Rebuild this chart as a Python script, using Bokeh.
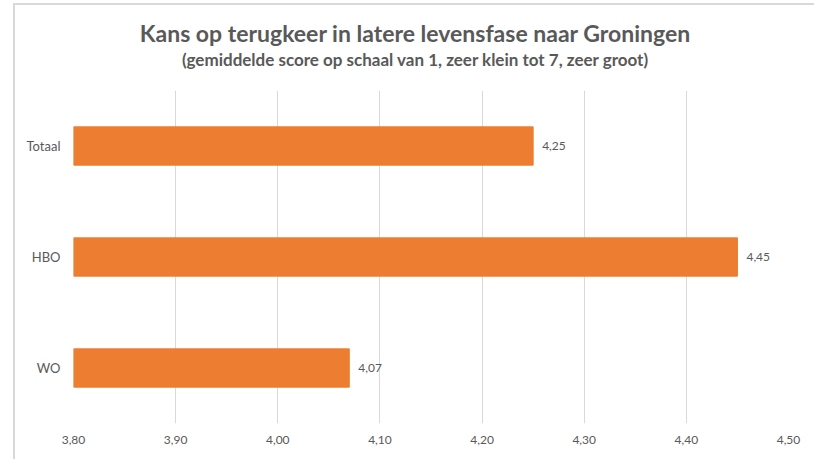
from bokeh.plotting import figure
from bokeh.models import ColumnDataSource, FixedTicker, CustomJSTickFormatter, Div
from bokeh.layouts import column
from bokeh.core.properties import value
from bokeh.embed import file_html
from bokeh.resources import INLINE

categories = ["WO", "HBO", "Totaal"]
scores = [4.07, 4.45, 4.25]
x_ticks = [3.8, 3.9, 4.0, 4.1, 4.2, 4.3, 4.4, 4.5]

title_text = "Kans op terugkeer in latere levensfase naar Groningen"
subtitle_text = "(gemiddelde score op schaal van 1, zeer klein tot 7, zeer groot)"

FONT = "Lato"
TXT = "#595959"
BAR = "#ED7D31"
GRID = "#D9D9D9"

labels = [f"{v:.2f}".replace(".", ",") for v in scores]
src = ColumnDataSource(data=dict(cat=categories, score=scores, label=labels))

W, H = 806, 451
HEAD = 82

head_html = f"""
<div style="position:relative;width:{W}px;height:{HEAD}px;font-family:'{FONT}';color:{TXT};font-weight:bold;overflow:visible;">
  <div style="position:absolute;left:14px;top:3px;width:820px;height:2px;background:{GRID};"></div>
  <div style="position:absolute;left:13px;top:3px;width:2px;height:470px;background:{GRID};"></div>
  <div style="position:absolute;left:0;width:830px;top:21px;font-size:23px;line-height:24px;text-align:center;white-space:nowrap;">{title_text}</div>
  <div style="position:absolute;left:0;width:830px;top:51px;font-size:17px;line-height:18px;text-align:center;white-space:nowrap;">{subtitle_text}</div>
</div>
"""
head = Div(text=head_html, width=W, height=HEAD, margin=0)

p = figure(
    width=W, height=H - HEAD,
    y_range=categories, x_range=(3.8, 4.5),
    output_backend="svg", toolbar_location=None,
    min_border_left=73, min_border_right=18,
    min_border_top=90 - HEAD, min_border_bottom=28,
    title=None, margin=0,
)
p.outline_line_color = None
p.background_fill_color = "white"
p.border_fill_color = None

p.hbar(y="cat", left=3.8, right="score", height=0.345, source=src,
       fill_color=BAR, line_color=BAR)

p.text(x="score", y="cat", text="label", source=src, x_offset=9,
       text_baseline="middle", text_align="left",
       text_font=value(FONT), text_font_size="12px", text_color=TXT)

p.xaxis.ticker = FixedTicker(ticks=x_ticks)
p.xaxis.formatter = CustomJSTickFormatter(code="return tick.toFixed(2).replace('.', ',');")
p.xaxis.axis_line_color = None
p.xaxis.major_tick_line_color = None
p.xaxis.minor_tick_line_color = None
p.xaxis.major_tick_out = 0
p.xaxis.major_tick_in = 0
p.xaxis.minor_tick_out = 0
p.xaxis.major_label_standoff = 12
p.xaxis.major_label_text_font = FONT
p.xaxis.major_label_text_font_size = "12px"
p.xaxis.major_label_text_color = TXT

p.yaxis.axis_line_color = None
p.yaxis.major_tick_line_color = None
p.yaxis.minor_tick_line_color = None
p.yaxis.major_tick_out = 0
p.yaxis.major_tick_in = 0
p.yaxis.minor_tick_out = 0
p.yaxis.major_label_standoff = 13
p.yaxis.major_label_text_font = FONT
p.yaxis.major_label_text_font_size = "13px"
p.yaxis.major_label_text_color = TXT

p.xgrid.grid_line_color = GRID
p.xgrid.ticker = FixedTicker(ticks=x_ticks)
p.ygrid.grid_line_color = None

layout = column(head, p, spacing=0, margin=0)
open("out.html", "w").write(file_html(layout, INLINE))
